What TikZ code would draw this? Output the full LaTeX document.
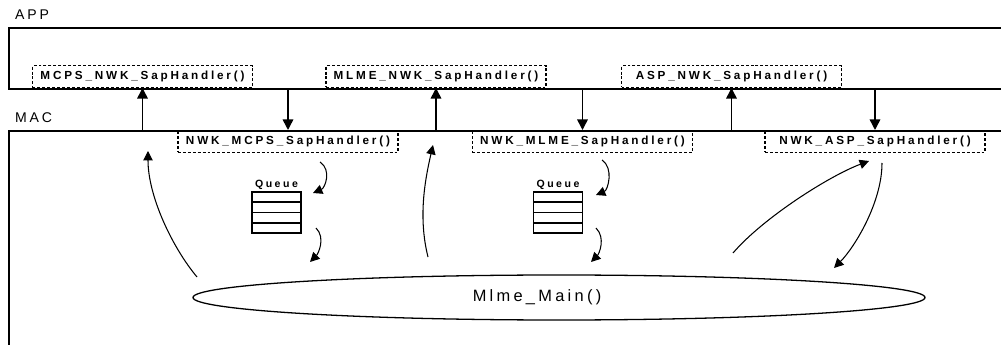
\documentclass[tikz,border=0pt]{standalone}
\usepackage{fontspec}
\setmainfont{Liberation Sans}
\newfontfamily\pixfont[LetterSpace=20]{Liberation Sans}
\newfontfamily\pixbold[LetterSpace=24]{Liberation Sans Bold}
\usetikzlibrary{shapes.geometric, arrows.meta, positioning, calc}

\begin{document}
\begin{tikzpicture}[x=0.03cm, y=-0.03cm,
        layer/.style={rectangle, draw, line width=1.3pt, inner sep=0pt, anchor=north west, minimum width=30.2cm},
        layertag/.style={inner sep=0pt, font=\pixfont\fontsize{12}{14}\selectfont},
        sapbox/.style={rectangle, draw, line width=0.9pt, dash pattern=on 2.5pt off 1.7pt, minimum width=6.6cm, minimum height=0.65cm, inner sep=0pt, font=\pixbold\fontsize{10}{12}\selectfont},
        queuebox/.style={rectangle, draw, line width=1pt, minimum width=1.47cm, minimum height=1.23cm, inner sep=0pt},
        call/.style={draw, line width=1.3pt, -{Triangle[length=9pt, width=9pt]}},
        flow/.style={draw, line width=0.9pt, -{Triangle[length=8pt, width=8pt]}}]

    \useasboundingbox (0,0) rectangle (1001,345);

    % layers
    \node [layer, minimum height=1.83cm] (app) at (8,27) {};
    \node [layer, minimum height=7.5cm] (mac) at (8,130) {};
    \node [layertag, above right=0.21cm and 0.21cm of app.north west] (apptag) {APP};
    \node [layertag, above right=0.21cm and 0.21cm of mac.north west] (mactag) {MAC};

    % sap handlers
    \node [sapbox, anchor=south] (mcpsapp) at (142.5,88) {MCPS\_NWK\_SapHandler()};
    \node [sapbox, anchor=south] (mlmeapp) at (436,88) {MLME\_NWK\_SapHandler()};
    \node [sapbox, anchor=south] (aspapp) at (731.5,88) {ASP\_NWK\_SapHandler()};
    \node [sapbox, anchor=north] (nwkmcps) at (288,130) {NWK\_MCPS\_SapHandler()};
    \node [sapbox, anchor=north] (nwkmlme) at (582.5,130) {NWK\_MLME\_SapHandler()};
    \node [sapbox, anchor=north] (nwkasp) at (875,130) {NWK\_ASP\_SapHandler()};

    \path [call] (mcpsapp.south |- mac.north) -- (mcpsapp.south);
    \path [call] (mlmeapp.south |- mac.north) -- (mlmeapp.south);
    \path [call] (aspapp.south |- mac.north) -- (aspapp.south);
    \path [call] (nwkmcps.north |- app.south) -- (nwkmcps.north);
    \path [call] (nwkmlme.north |- app.south) -- (nwkmlme.north);
    \path [call] (nwkasp.north |- app.south) -- (nwkasp.north);

    % queues
    \node [queuebox, label={[font=\pixbold\fontsize{9}{10}\selectfont, inner sep=1.5pt]above:Queue}] (queuea) at (276.5,212.5) {};
    \node [queuebox, label={[font=\pixbold\fontsize{9}{10}\selectfont, inner sep=1.5pt]above:Queue}] (queueb) at (558,212.5) {};
    \foreach \q in {queuea, queueb}
        \foreach \f in {0.25, 0.5, 0.75}
            \draw [line width=1pt] ($(\q.north west)!\f!(\q.south west)$) -- ($(\q.north east)!\f!(\q.south east)$);

    % main loop
    \node [ellipse, draw, line width=1.1pt, minimum width=21.96cm, minimum height=1.35cm, inner sep=0pt] (mlmemain) at (559,297.5) {};
    \node [font=\pixfont\fontsize{14}{16}\selectfont] (mainlbl) at ([xshift=-0.66cm]mlmemain.center) {Mlme\_Main()};

    % curved flows
    \coordinate (mcpsfrom) at (197,277);
    \coordinate (mcpsto) at (148,151);
    \coordinate (mlmefrom) at (428,257);
    \coordinate (mlmeto) at (433,145);
    \coordinate (qain) at (320,162);
    \coordinate (qaput) at (313,193);
    \coordinate (qaout) at (316,228);
    \coordinate (qaget) at (310,262);
    \coordinate (qbin) at (602,160);
    \coordinate (qbput) at (596,195);
    \coordinate (qbout) at (596,228);
    \coordinate (qbget) at (591,262);
    \coordinate (aspfrom) at (733,253);
    \coordinate (aspto) at (869,161);
    \coordinate (aspback) at (882,163);
    \coordinate (aspret) at (834,268);

    \path [flow] (mcpsfrom) .. controls +(-25,-30) and +(0,45) .. (mcpsto);
    \path [flow] (mlmefrom) .. controls +(-10,-40) and +(-8,35) .. (mlmeto);
    \path [flow] (qain) .. controls +(12,8) and +(12,-5) .. (qaput);
    \path [flow] (qaout) .. controls +(10,10) and +(8,-8) .. (qaget);
    \path [flow] (qbin) .. controls +(12,8) and +(12,-5) .. (qbput);
    \path [flow] (qbout) .. controls +(10,10) and +(8,-8) .. (qbget);
    \path [flow] (aspfrom) .. controls +(30,-35) and +(-40,15) .. (aspto);
    \path [flow] (aspback) .. controls +(0,40) and +(20,-20) .. (aspret);
\end{tikzpicture}
\end{document}
